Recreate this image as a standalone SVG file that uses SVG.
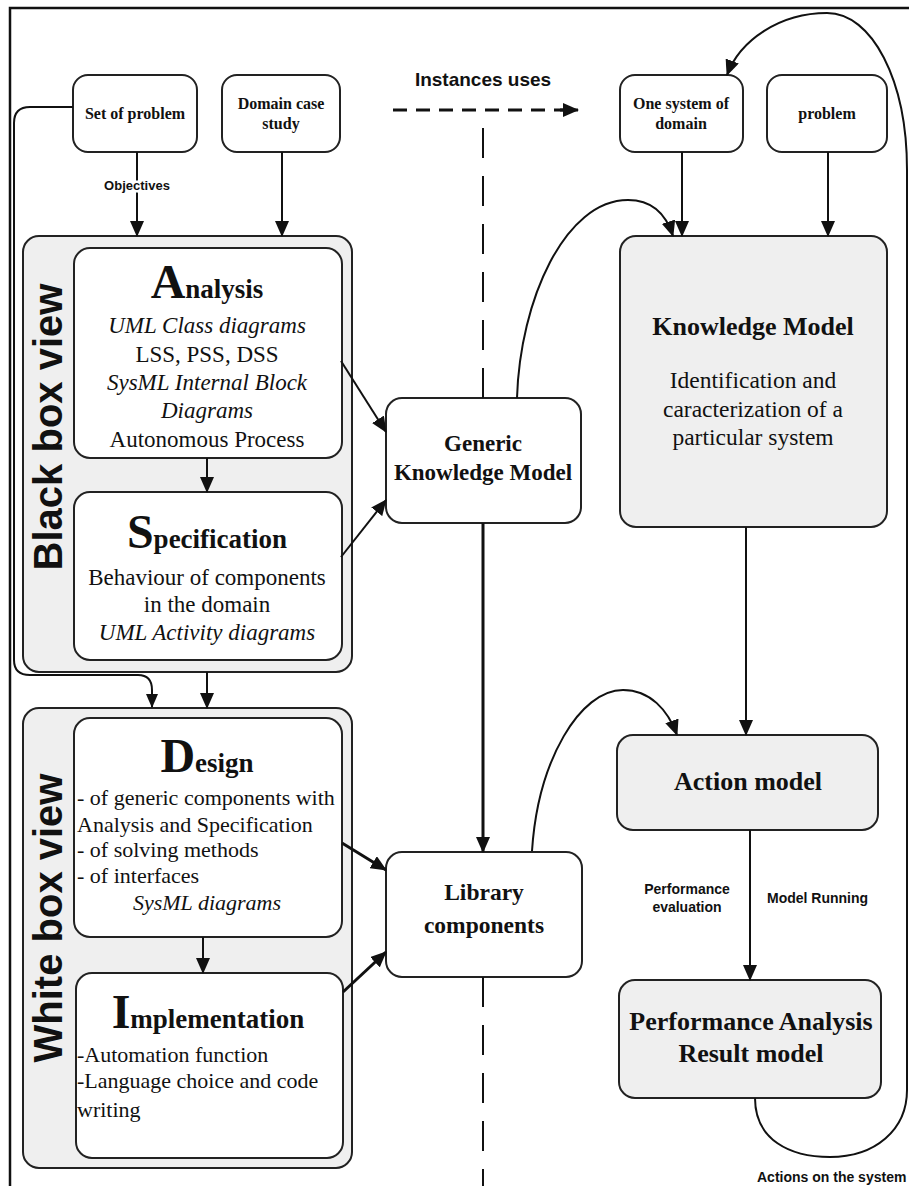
<svg xmlns="http://www.w3.org/2000/svg" width="909" height="1186" viewBox="0 0 909 1186">
<defs>
<marker id="ah" markerUnits="userSpaceOnUse" markerWidth="16" markerHeight="14" refX="15" refY="7" orient="auto"><path d="M0,0 L16,7 L0,14 z" fill="#111"/></marker>
<marker id="ahs" markerUnits="userSpaceOnUse" markerWidth="14" markerHeight="12" refX="13" refY="6" orient="auto"><path d="M0,0 L14,6 L0,12 z" fill="#111"/></marker>
<style>
.box{fill:#fff;stroke:#222;stroke-width:2}
.gbox{fill:#efefef;stroke:#222;stroke-width:2}
.c{fill:none;stroke:#111;stroke-width:2}
.ct{fill:none;stroke:#111;stroke-width:3}
.sr{font-family:"Liberation Serif",serif;fill:#111}
.b{font-weight:bold}
.i{font-style:italic}
.ss{font-family:"Liberation Sans",sans-serif;font-weight:bold;fill:#111}
</style>
</defs>
<rect width="909" height="1186" fill="#fff"/>
<g id="frame"><path d="M10,1186 V8 H909" fill="none" stroke="#111" stroke-width="2.5"/></g>

<g id="blackbox-container"><rect class="gbox" x="23" y="236" width="329" height="436" rx="16"/>
<text class="ss" font-size="40" transform="translate(62,427) rotate(-90)" text-anchor="middle">Black box view</text></g>
<g id="whitebox-container"><rect class="gbox" x="23" y="708" width="329" height="460" rx="16"/>
<text class="ss" font-size="40" transform="translate(62,918) rotate(-90)" text-anchor="middle">White box view</text></g>

<g id="set-of-problem"><rect class="box" x="73" y="75" width="124" height="77" rx="15"/>
<text class="sr b" font-size="16" x="135" y="119" text-anchor="middle">Set of problem</text></g>
<g id="domain-case-study"><rect class="box" x="222" y="75" width="118" height="77" rx="15"/>
<text class="sr b" font-size="16" x="281" y="109" text-anchor="middle">Domain case</text>
<text class="sr b" font-size="16" x="281" y="129" text-anchor="middle">study</text></g>
<g id="one-system"><rect class="box" x="620" y="75" width="123" height="77" rx="15"/>
<text class="sr b" font-size="16" x="681" y="109" text-anchor="middle">One system of</text>
<text class="sr b" font-size="16" x="681" y="129" text-anchor="middle">domain</text></g>
<g id="problem"><rect class="box" x="767" y="75" width="120" height="77" rx="15"/>
<text class="sr b" font-size="16" x="827" y="119" text-anchor="middle">problem</text></g>

<g id="analysis"><rect class="box" x="74" y="248" width="268" height="210" rx="16"/>
<text class="sr b" x="207" y="298" text-anchor="middle"><tspan font-size="48">A</tspan><tspan font-size="27">nalysis</tspan></text>
<text class="sr i" font-size="23" x="207" y="333" text-anchor="middle">UML Class diagrams</text>
<text class="sr" font-size="23" x="207" y="362" text-anchor="middle">LSS, PSS, DSS</text>
<text class="sr i" font-size="23" x="207" y="390" text-anchor="middle">SysML Internal Block</text>
<text class="sr i" font-size="23" x="207" y="418" text-anchor="middle">Diagrams</text>
<text class="sr" font-size="23" x="207" y="447" text-anchor="middle">Autonomous Process</text></g>

<g id="specification"><rect class="box" x="74" y="492" width="268" height="168" rx="16"/>
<text class="sr b" x="207" y="548" text-anchor="middle"><tspan font-size="48">S</tspan><tspan font-size="27">pecification</tspan></text>
<text class="sr" font-size="23" x="207" y="585" text-anchor="middle">Behaviour of components</text>
<text class="sr" font-size="23" x="207" y="612" text-anchor="middle">in the domain</text>
<text class="sr i" font-size="23" x="207" y="640" text-anchor="middle">UML Activity diagrams</text></g>

<g id="design"><rect class="box" x="74" y="718" width="268" height="219" rx="16"/>
<text class="sr b" x="207" y="772" text-anchor="middle"><tspan font-size="48">D</tspan><tspan font-size="27">esign</tspan></text>
<text class="sr" font-size="22" x="77" y="805">- of generic components with</text>
<text class="sr" font-size="22" x="77" y="832">Analysis and Specification</text>
<text class="sr" font-size="22" x="77" y="857">- of solving methods</text>
<text class="sr" font-size="22" x="77" y="883">- of interfaces</text>
<text class="sr i" font-size="22" x="207" y="910" text-anchor="middle">SysML diagrams</text></g>

<g id="implementation"><rect class="box" x="76" y="973" width="267" height="185" rx="16"/>
<text class="sr b" x="208" y="1028" text-anchor="middle"><tspan font-size="48">I</tspan><tspan font-size="27">mplementation</tspan></text>
<text class="sr" font-size="22" x="77" y="1062">-Automation function</text>
<text class="sr" font-size="22" x="77" y="1088">-Language choice and code</text>
<text class="sr" font-size="22" x="77" y="1117">writing</text></g>

<g id="generic-knowledge-model"><rect class="box" x="386" y="398" width="195" height="125" rx="16"/>
<text class="sr b" font-size="23" x="483" y="451" text-anchor="middle">Generic</text>
<text class="sr b" font-size="23" x="483" y="480" text-anchor="middle">Knowledge Model</text></g>

<g id="library-components"><rect class="box" x="386" y="852" width="196" height="125" rx="16"/>
<text class="sr b" font-size="23.5" x="484" y="900" text-anchor="middle">Library</text>
<text class="sr b" font-size="23.5" x="484" y="933" text-anchor="middle">components</text></g>

<g id="knowledge-model"><rect class="gbox" x="620" y="236" width="267" height="291" rx="16"/>
<text class="sr b" font-size="26" x="753" y="335" text-anchor="middle">Knowledge Model</text>
<text class="sr" font-size="23.5" x="753" y="388" text-anchor="middle">Identification and</text>
<text class="sr" font-size="23.5" x="753" y="417" text-anchor="middle">caracterization of a</text>
<text class="sr" font-size="23.5" x="753" y="445" text-anchor="middle">particular system</text></g>

<g id="action-model"><rect class="gbox" x="617" y="735" width="261" height="95" rx="16"/>
<text class="sr b" font-size="26" x="748" y="790" text-anchor="middle">Action model</text></g>

<g id="performance-analysis"><rect class="gbox" x="619" y="980" width="262" height="118" rx="16"/>
<text class="sr b" font-size="26" x="751" y="1030" text-anchor="middle">Performance Analysis</text>
<text class="sr b" font-size="26" x="751" y="1062" text-anchor="middle">Result model</text></g>

<g id="connectors">
<path class="c" d="M73,107 H30 Q14,107 14,123 V660 Q14,675 30,675 H138 Q152,675 152,690 V707" marker-end="url(#ahs)"/>
<path class="c" d="M137,152 V236" marker-end="url(#ah)"/>
<text class="ss" font-size="13" x="137" y="190" text-anchor="middle" stroke="#fff" stroke-width="5" paint-order="stroke">Objectives</text>
<path class="c" d="M282,152 V236" marker-end="url(#ah)"/>
<path class="c" d="M207,458 V492" marker-end="url(#ah)"/>
<path class="c" d="M207,672 V708" marker-end="url(#ah)"/>
<path class="c" d="M203,937 V973" marker-end="url(#ah)"/>
<path class="c" d="M341,361 L386,432" marker-end="url(#ah)"/>
<path class="c" d="M341,557 L386,500" marker-end="url(#ah)"/>
<path class="ct" d="M342,843 L386,870" marker-end="url(#ah)"/>
<path class="ct" d="M343,992 L386,952" marker-end="url(#ah)"/>
<path class="ct" d="M483,523 V852" marker-end="url(#ah)"/>
<path d="M483,128 V398 M483,977 V1186" fill="none" stroke="#111" stroke-width="2" stroke-dasharray="30 18"/>
<path d="M393,110 H565" fill="none" stroke="#111" stroke-width="3" stroke-dasharray="14 9"/>
<path d="M560,110 H578" class="ct" marker-end="url(#ah)"/>
<text class="ss" font-size="19" x="483" y="86" text-anchor="middle">Instances uses</text>
<path class="c" d="M682,152 V236" marker-end="url(#ah)"/>
<path class="c" d="M828,152 V236" marker-end="url(#ah)"/>
<path class="c" d="M517,398 C520,300 565,200 628,200 C652,200 666,214 673,236" marker-end="url(#ah)"/>
<path class="c" d="M746,527 V735" marker-end="url(#ah)"/>
<path class="c" d="M532,851 C538,760 580,690 623,690 C650,690 668,710 677,735" marker-end="url(#ah)"/>
<path class="c" d="M750,830 V980" marker-end="url(#ah)"/>
<text class="ss" font-size="14" x="687" y="894" text-anchor="middle">Performance</text>
<text class="ss" font-size="14" x="687" y="912" text-anchor="middle">evaluation</text>
<text class="ss" font-size="14" x="767" y="903">Model Running</text>
<path class="c" d="M755,1098 C755,1140 790,1157 830,1157 C875,1157 907,1130 907,1090 V170 C907,80 872,13 827,13 C780,13 740,40 727,75" marker-end="url(#ah)"/>
<text class="ss" font-size="14" x="757" y="1182">Actions on the system</text>
</g>
</svg>
